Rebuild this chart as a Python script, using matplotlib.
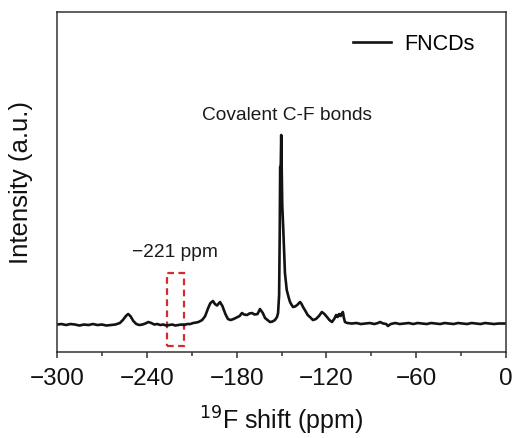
import matplotlib
matplotlib.use("Agg")
import matplotlib.pyplot as plt
from matplotlib.patches import Rectangle
from matplotlib.ticker import MultipleLocator

plt.rcParams['font.family'] = ['Liberation Sans', 'DejaVu Sans']

# 19F NMR spectrum of FNCDs (chemical shift in ppm, intensity in a.u.)
shift_ppm = [
    -300, -297, -294, -291, -288, -285, -282, -279, -276, -273, -270, -267,
    -264, -261, -258, -256, -254, -252.5, -251, -249, -247, -245, -243, -241,
    -239, -237, -235, -233, -231, -229, -227, -225, -223, -221, -219, -217,
    -215, -213, -211, -209, -207, -205.5, -203, -201, -199, -197.5, -195.8,
    -194.5, -193.1, -191.1, -189.5, -187.5, -185.8, -184, -182, -180, -178,
    -176.4, -175, -173, -171.5, -169.7, -168, -166, -164.4, -162.5, -161,
    -159, -157.7, -156, -154.4, -153, -152.3, -151.6, -151.2, -150.9, -150.5,
    -150.2, -149.9, -149.5, -148.8, -148.2, -147.7, -146.5, -145.3, -144.3,
    -143.2, -142.3, -141, -139.5, -138.3, -137.6, -136.6, -135.6, -134,
    -132.5, -131, -129, -127, -125, -123, -121.3, -119.6, -118, -116.3,
    -114.8, -113.5, -112.5, -111.5, -110.5, -109.5, -109, -108.3, -107.6,
    -106, -103, -100, -97, -94, -91, -88, -85.5, -84.2, -82, -80, -78.9,
    -77, -74, -71, -68, -65, -62, -59, -56, -53, -50, -47, -44, -41, -38,
    -35, -32, -29, -26, -23, -20, -17, -14, -11, -8, -5, -2, 0,
]
intensity = [
    0.5, 1.0, 0.0, 1.0, 0.5, -0.5, 0.5, 0.0, 1.0, 0.0, 0.5, -0.5,
    0.0, 0.5, 2.0, 5.0, 9.0, 11.0, 9.0, 4.0, 1.0, 0.0, 0.5, 1.5,
    3.0, 2.0, 0.5, 1.0, 0.0, 0.5, -0.5, 0.0, 0.5, -0.5, 0.0, 0.5,
    0.0, 1.0, 1.0, 2.0, 2.5, 3.0, 5.0, 9.0, 17.0, 22.0, 24.0,
    21.0, 19.5, 23.0, 19.0, 11.0, 6.0, 5.0, 6.0, 7.5, 9.0,
    12.0, 10.5, 10.0, 11.5, 12.0, 10.5, 11.0, 16.0, 12.0, 7.0,
    4.5, 3.0, 3.5, 5.0, 8.0, 12.0, 30.0, 90.0, 158.0, 160.0,
    190.0, 160.0, 120.0, 95.0, 70.0, 52.0, 35.0, 28.0, 23.0,
    20.0, 18.0, 18.5, 20.0, 22.0, 23.0, 21.0, 18.0, 14.0,
    10.0, 8.0, 5.0, 6.0, 9.0, 13.0, 11.0, 8.0, 5.0, 3.0,
    6.0, 10.0, 8.0, 11.0, 9.0, 12.0, 13.0, 7.0, 3.0,
    2.0, 1.5, 2.0, 1.0, 1.5, 2.0, 1.0, 2.0, 3.0, 1.5, 1.0, -1.0,
    1.0, 2.0, 1.0, 1.5, 2.0, 1.0, 2.0, 1.5, 1.0, 2.0, 1.5, 1.0, 2.0, 1.5,
    1.0, 2.0, 1.5, 1.0, 2.0, 1.5, 1.0, 2.0, 1.5, 1.0, 1.5, 1.5, 1.5,
]

series_label = "FNCDs"
peak_label = "Covalent C-F bonds"
marker_label = "\u2212221 ppm"
marker_ppm = -221
x_ticks = [-300, -240, -180, -120, -60, 0]

fig = plt.figure(figsize=(5.17, 4.38), dpi=100)
ax = fig.add_axes([0.1103, 0.1963, 0.8684, 0.7763])

ax.plot(shift_ppm, intensity, color="#151212", lw=1.9, label=series_label,
        solid_joinstyle="round")

# dashed box marking the -221 ppm region
box = Rectangle((marker_ppm - 5.8, -21), 11.6, 73, fill=False,
                edgecolor="#d42b2f", lw=1.6, linestyle=(0, (3, 2)))
ax.add_patch(box)

ax.text(marker_ppm, 73, marker_label, ha="center", va="center", fontsize=13.8,
        color="#1a1a1a")
ax.text(-146, 210, peak_label, ha="center", va="center", fontsize=13.8,
        color="#1a1a1a")

ax.set_xlim(-300, 0)
ax.set_ylim(-27, 313)
ax.set_xticks(x_ticks)
ax.set_xticklabels([str(t).replace("-", "\u2212") for t in x_ticks])
ax.xaxis.set_minor_locator(MultipleLocator(30))
ax.set_yticks([])
ax.tick_params(axis="x", which="major", direction="out", length=4.5, width=1.1,
               labelsize=17.5, pad=7, colors="#333333", labelcolor="#111111")
ax.tick_params(axis="x", which="minor", direction="out", length=3, width=1.1,
               colors="#333333")
for sp in ax.spines.values():
    sp.set_linewidth(1.1)
    sp.set_color("#333333")

ax.set_xlabel("$^{19}$F shift (ppm)", fontsize=18, labelpad=10.5, color="#111111")
ax.set_ylabel("Intensity (a.u.)", fontsize=18.5, labelpad=17, color="#111111")

ax.legend(loc="upper right", bbox_to_anchor=(0.978, 1.0), frameon=False,
          fontsize=15.5, handlelength=1.8, handletextpad=0.6, borderaxespad=0.6)

fig.savefig("out.png", dpi=100)
